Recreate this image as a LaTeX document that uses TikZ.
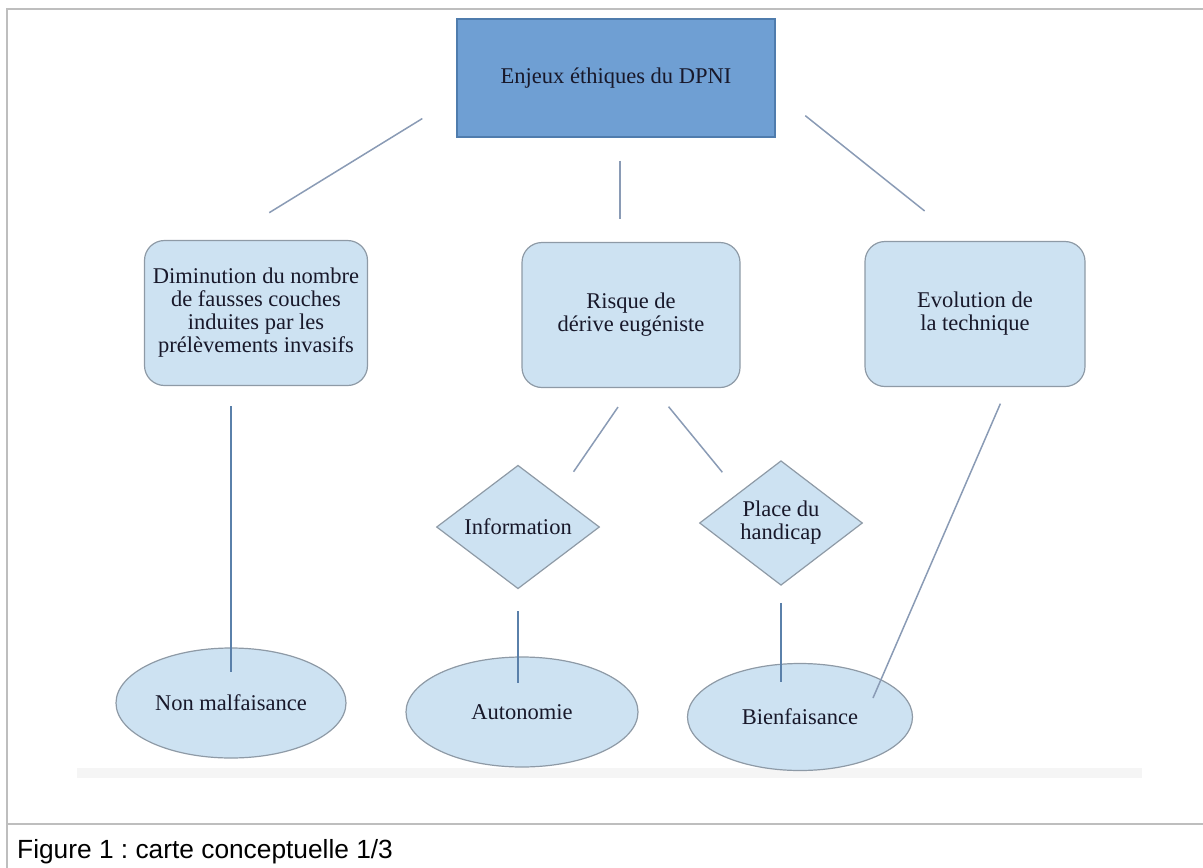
\documentclass[tikz,border=0pt]{standalone}
\usepackage{fontspec}
\setmainfont{Liberation Serif}
\newfontfamily\capfont{Liberation Sans}
\usepackage{tikz}
\usetikzlibrary{shapes.geometric,calc}
\frenchspacing
\definecolor{topblue}{HTML}{6F9FD3}
\definecolor{topedge}{HTML}{4F7CAD}
\definecolor{boxfill}{HTML}{CDE2F2}
\definecolor{boxedge}{HTML}{8E9AA6}
\definecolor{linkcol}{HTML}{8A9BB5}
\definecolor{stemcol}{HTML}{5A80AA}
\definecolor{txt}{HTML}{18182A}
\definecolor{framecol}{HTML}{BEBEBE}

\begin{document}
\begin{tikzpicture}[x=1pt,y=-1pt,
	every node/.style={text=txt,font=\fontsize{22.5}{23}\selectfont,align=center,inner sep=0pt},
	topbox/.style={rectangle,draw=topedge,fill=topblue,line width=1.2pt,minimum width=318pt,minimum height=118pt},
	roundbox/.style={rectangle,rounded corners=20pt,draw=boxedge,fill=boxfill,line width=1.2pt,minimum width=220pt,minimum height=145pt},
	losange/.style={diamond,draw=boxedge,fill=boxfill,line width=1.2pt,minimum width=163pt,minimum height=123pt},
	oval/.style={ellipse,draw=boxedge,fill=boxfill,line width=1.2pt,minimum width=230pt,minimum height=110pt},
	link/.style={draw=linkcol,line width=1.5pt},
	stem/.style={draw=stemcol,line width=1.5pt}]
	\useasboundingbox (0,0) rectangle (1203,868);
	\draw[framecol,line width=1.5pt] (7,868) -- (7,9) -- (1203,9);
	\draw[framecol,line width=1.5pt] (7,824) -- (1203,824);
	\fill[black!4] (77,768) rectangle (1142,778);

	\node[topbox] (dpni) at (616,78) {Enjeux éthiques du DPNI};
	\node[roundbox,minimum width=223pt] (dimin) at (256,313) {Diminution du nombre\\de fausses couches\\induites par les\\prélèvements invasifs};
	\node[roundbox,minimum width=218pt] (risque) at (631,315) {Risque de\\dérive eugéniste};
	\node[roundbox] (evol) at (975,314) {Evolution de\\la technique};
	\node[losange] (info) at (518,527) {Information};
	\node[losange] (place) at (781,523) {Place du\\handicap};
	\node[oval] (nonmal) at (231,703) {Non malfaisance};
	\node[oval,minimum width=232pt] (auto) at (522,712) {Autonomie};
	\node[oval,minimum width=225pt,minimum height=107pt] (bien) at (800,717) {Bienfaisance};

	\draw[link,shorten <=40pt,shorten >=52pt] (dpni.187) -- (dimin.113);
	\draw[link,shorten <=23pt,shorten >=23pt] ([xshift=4pt]dpni.south) -- ([xshift=-11pt]risque.north);
	\draw[link,shorten <=38pt,shorten >=48pt] (dpni.355) -- (evol.100);
	\draw[link,shorten <=23pt,shorten >=28pt] (risque.south) -- (info.39);
	\draw[link,shorten <=24pt,shorten >=26pt] (risque.-73) -- (place.144);
	\draw[stem,shorten <=20pt,shorten >=31pt] (nonmal.center |- dimin.south) -- (nonmal.center);
	\draw[stem,shorten <=22pt,shorten >=29pt] (info.south) -- (info.south |- auto.center);
	\draw[stem,shorten <=17pt,shorten >=35pt] (place.south) -- (place.south |- bien.center);
	\draw[link,shorten <=18pt] (evol.-66) -- ([xshift=73pt,yshift=19pt]bien.center);

	\node[anchor=base west,font=\capfont\fontsize{26.3}{30}\selectfont,text=black] (legende) at (17,858) {Figure 1 : carte conceptuelle 1/3};
\end{tikzpicture}
\end{document}
